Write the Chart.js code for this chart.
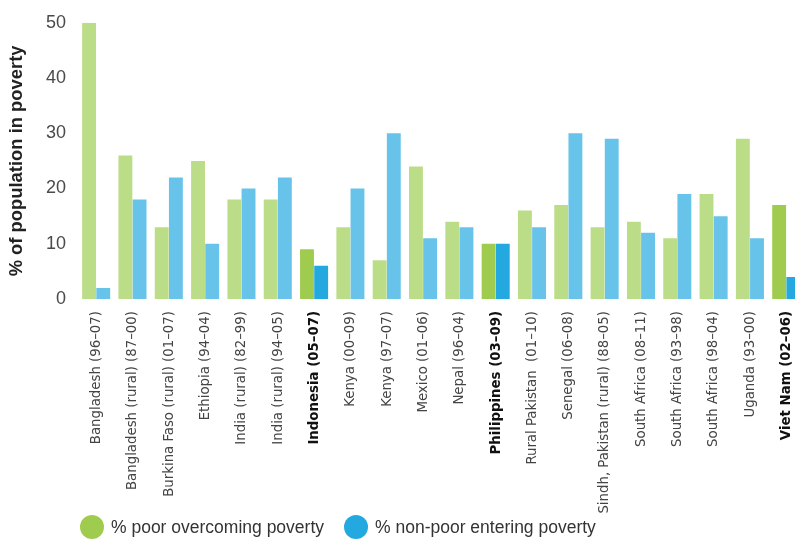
<!DOCTYPE html>
<html>
<head>
<meta charset="utf-8">
<script src="https://cdn.jsdelivr.net/npm/chart.js@4/dist/chart.umd.min.js"></script>
<style>
  html, body { margin: 0; padding: 0; background: #ffffff; overflow: hidden; }
  #wrap { position: relative; width: 816px; height: 540px; }
</style>
</head>
<body>
<div id="wrap"><canvas id="chart"></canvas></div>
<script>
// Survey periods by country
const categories = [
  'Bangladesh (96–07)',
  'Bangladesh (rural) (87–00)',
  'Burkina Faso (rural) (01–07)',
  'Ethiopia (94–04)',
  'India (rural) (82–99)',
  'India (rural) (94–05)',
  'Indonesia (05–07)',
  'Kenya (00–09)',
  'Kenya (97–07)',
  'Mexico (01–06)',
  'Nepal (96–04)',
  'Philippines (03–09)',
  'Rural Pakistan  (01–10)',
  'Senegal (06–08)',
  'Sindh, Pakistan (rural) (88–05)',
  'South Africa (08–11)',
  'South Africa (93–98)',
  'South Africa (98–04)',
  'Uganda (93–00)',
  'Viet Nam (02–06)'
];

// % of population
const poorOvercoming  = [50, 26, 13, 25, 18, 18, 9, 13, 7, 24, 14, 10, 16, 17, 13, 14, 11, 19, 29, 17];
const nonPoorEntering = [2, 18, 22, 10, 20, 22, 6, 20, 30, 11, 13, 10, 13, 30, 29, 12, 19, 15, 11, 4];

// Countries shown in bold with stronger colours
const highlighted = ['Indonesia (05–07)', 'Philippines (03–09)', 'Viet Nam (02–06)'];

const yTicks = [0, 10, 20, 30, 40, 50];

const GREEN_LIGHT = '#bcdd87';
const GREEN_DARK  = '#9fcc4f';
const BLUE_LIGHT  = '#67c3e9';
const BLUE_DARK   = '#23a9df';

const isHi = i => highlighted.includes(categories[i]);

// Legend drawn as filled circles under the axis labels
const bottomLegend = {
  id: 'bottomLegend',
  afterDraw(chart) {
    const { ctx, chartArea } = chart;
    ctx.save();
    ctx.font = '17.5px "Liberation Sans", Arial, sans-serif';
    ctx.textBaseline = 'middle';
    ctx.textAlign = 'left';
    const y = chart.height - 13;
    let x = chartArea.left + 14;
    chart.data.datasets.forEach(ds => {
      ctx.beginPath();
      ctx.arc(x, y, 12, 0, Math.PI * 2);
      ctx.fillStyle = ds.legendColor;
      ctx.fill();
      ctx.fillStyle = '#333333';
      ctx.fillText(ds.label, x + 19, y + 1);
      x += 19 + ctx.measureText(ds.label).width + 32;
    });
    ctx.restore();
  }
};

new Chart(document.getElementById('chart'), {
  type: 'bar',
  data: {
    labels: categories,
    datasets: [
      {
        label: '% poor overcoming poverty',
        data: poorOvercoming,
        backgroundColor: categories.map((c, i) => isHi(i) ? GREEN_DARK : GREEN_LIGHT),
        legendColor: GREEN_DARK,
        categoryPercentage: 0.78,
        barPercentage: 0.98
      },
      {
        label: '% non-poor entering poverty',
        data: nonPoorEntering,
        backgroundColor: categories.map((c, i) => isHi(i) ? BLUE_DARK : BLUE_LIGHT),
        legendColor: BLUE_DARK,
        categoryPercentage: 0.78,
        barPercentage: 0.98
      }
    ]
  },
  options: {
    responsive: true,
    maintainAspectRatio: false,
    animation: false,
    layout: { padding: { top: 19, right: 0, left: 0, bottom: 0 } },
    plugins: {
      legend: { display: false },
      tooltip: { enabled: false }
    },
    scales: {
      x: {
        grid: { display: false, drawTicks: false },
        border: { display: false },
        ticks: {
          autoSkip: false,
          maxRotation: 90,
          minRotation: 90,
          padding: 12,
          color: ctx => isHi(ctx.index) ? '#111111' : '#444444',
          font: ctx => ({
            family: '"DejaVu Sans Condensed", sans-serif',
            size: 14.8,
            weight: isHi(ctx.index) ? 'bold' : 'normal'
          })
        },
        afterFit(scale) { scale.height = 241; }
      },
      y: {
        min: 0,
        max: 50,
        grid: { display: false, drawTicks: false },
        border: { display: false },
        afterBuildTicks(scale) { scale.ticks = yTicks.map(v => ({ value: v })); },
        ticks: {
          padding: 12,
          color: '#4a4a4a',
          font: { family: '"Liberation Sans", Arial, sans-serif', size: 18 }
        },
        title: {
          display: true,
          text: '% of population in poverty',
          color: '#222222',
          font: { family: '"Liberation Sans", Arial, sans-serif', size: 18.4, weight: 'bold' },
          padding: { top: 6, bottom: 0 }
        },
        afterFit(scale) { scale.width = 78; }
      }
    }
  },
  plugins: [bottomLegend]
});
</script>
</body>
</html>
